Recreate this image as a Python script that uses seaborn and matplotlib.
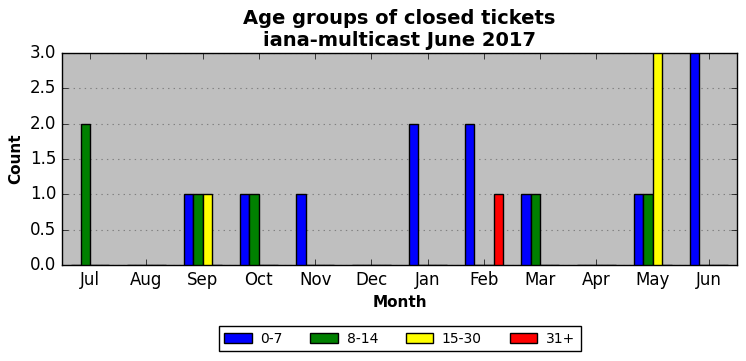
import matplotlib
matplotlib.use("Agg")
import matplotlib.pyplot as plt
import pandas as pd
import seaborn as sns

# --- DATA ---
months = ["Jul", "Aug", "Sep", "Oct", "Nov", "Dec",
          "Jan", "Feb", "Mar", "Apr", "May", "Jun"]
age_groups = ["0-7", "8-14", "15-30", "31+"]
counts_0_7 = [0, 0, 1, 1, 1, 0, 2, 2, 1, 0, 1, 3]
counts_8_14 = [2, 0, 1, 1, 0, 0, 0, 0, 1, 0, 1, 0]
counts_15_30 = [0, 0, 1, 0, 0, 0, 0, 0, 0, 0, 3, 0]
counts_31_plus = [0, 0, 0, 0, 0, 0, 0, 1, 0, 0, 0, 0]
colors = ["blue", "green", "yellow", "red"]

# --- STYLE ---
plt.style.use("classic")
plt.rcParams["font.family"] = ["DejaVu Sans"]

rows = []
for grp, vals in zip(age_groups, [counts_0_7, counts_8_14, counts_15_30, counts_31_plus]):
    for m, v in zip(months, vals):
        rows.append({"Month": m, "Count": v, "Age": grp})
df = pd.DataFrame(rows)

fig = plt.figure(figsize=(7.46, 3.61), dpi=100)
ax = fig.add_axes([0.0831, 0.266, 0.905, 0.587])
ax.set_facecolor("#bfbfbf")

sns.barplot(data=df, x="Month", y="Count", hue="Age", order=months,
            hue_order=age_groups, palette=colors, width=0.68, saturation=1,
            errorbar=None, edgecolor="black", linewidth=1, ax=ax, zorder=3)

ax.set_xlim(-0.5, len(months) - 0.5)
ax.set_ylim(0, 3.0)
ax.set_yticks([0.0, 0.5, 1.0, 1.5, 2.0, 2.5, 3.0])
ax.yaxis.grid(True, linestyle=":", color="#808080", linewidth=0.8, zorder=0)
ax.set_axisbelow(True)
ax.tick_params(axis="both", direction="in", top=True, right=True, labelsize=12)

ax.set_xlabel("Month", fontsize=11, fontweight="bold")
ax.set_ylabel("Count", fontsize=11, fontweight="bold")
ax.set_title("Age groups of closed tickets\niana-multicast June 2017",
             fontsize=14, fontweight="bold", linespacing=1.2)

ax.legend(loc="upper center", bbox_to_anchor=(0.5, -0.255), ncol=4,
          fontsize=10, fancybox=False, frameon=True, handlelength=2.0,
          handletextpad=0.6, columnspacing=2.0, borderpad=0.4)

fig.savefig("out.png", dpi=100)
